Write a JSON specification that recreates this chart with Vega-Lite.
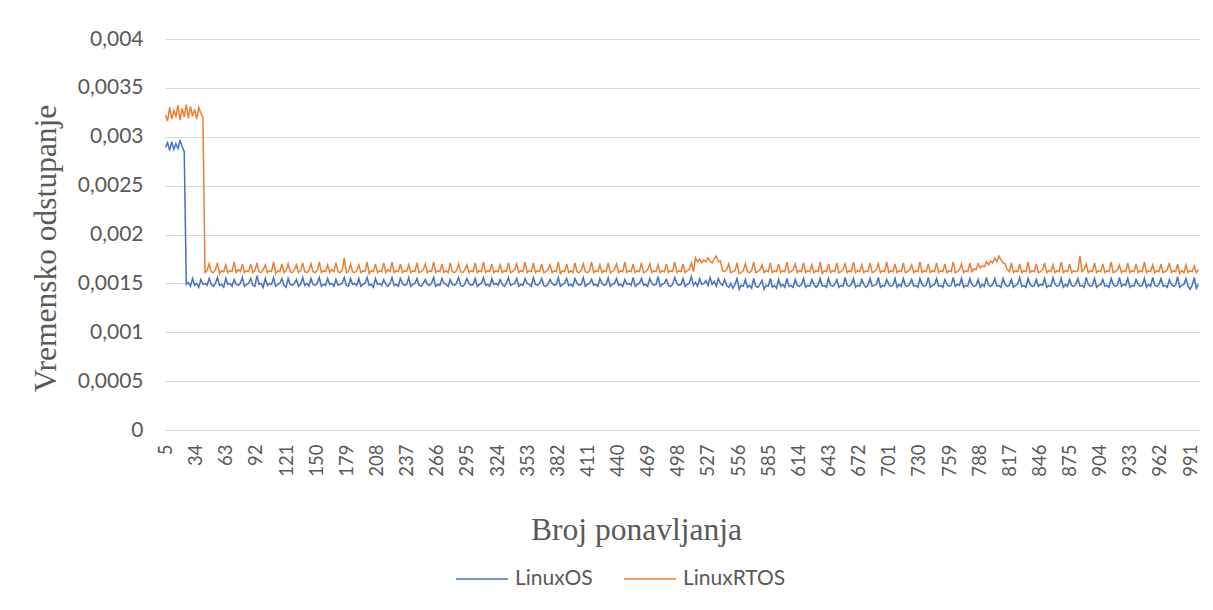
{
"$schema": "https://vega.github.io/schema/vega-lite/v6.json",
"width": 1035, "height": 391,
"autosize": {"type": "none"},
"padding": {"left": 165, "top": 39, "right": 13, "bottom": 180},
"background": "white",
"config": {"view": {"stroke": null}, "font": "Lato"},
"data": {"values": [
{"x":5,"LinuxOS":0.00289,"LinuxRTOS":0.00322},{"x":7,"LinuxOS":0.00294,"LinuxRTOS":0.00316},{"x":9,"LinuxOS":0.00286,"LinuxRTOS":0.00330},{"x":11,"LinuxOS":0.00295,"LinuxRTOS":0.00318},{"x":13,"LinuxOS":0.00287,"LinuxRTOS":0.00327},{"x":15,"LinuxOS":0.00293,"LinuxRTOS":0.00321},{"x":17,"LinuxOS":0.00288,"LinuxRTOS":0.00332},{"x":19,"LinuxOS":0.00296,"LinuxRTOS":0.00317},{"x":21,"LinuxOS":0.00290,"LinuxRTOS":0.00329},{"x":23,"LinuxOS":0.00285,"LinuxRTOS":0.00320},
{"x":25,"LinuxOS":0.00149,"LinuxRTOS":0.00333},{"x":27,"LinuxOS":0.00151,"LinuxRTOS":0.00319},{"x":29,"LinuxOS":0.00147,"LinuxRTOS":0.00331},{"x":31,"LinuxOS":0.00155,"LinuxRTOS":0.00321},{"x":33,"LinuxOS":0.00148,"LinuxRTOS":0.00328},{"x":35,"LinuxOS":0.00150,"LinuxRTOS":0.00318},{"x":37,"LinuxOS":0.00146,"LinuxRTOS":0.00330},{"x":39,"LinuxOS":0.00154,"LinuxRTOS":0.00324},{"x":41,"LinuxOS":0.00149,"LinuxRTOS":0.00320},
{"x":43,"LinuxOS":0.00150,"LinuxRTOS":0.00161},{"x":45,"LinuxOS":0.00148,"LinuxRTOS":0.00163},{"x":47,"LinuxOS":0.00155,"LinuxRTOS":0.00170},{"x":49,"LinuxOS":0.00149,"LinuxRTOS":0.00162},{"x":51,"LinuxOS":0.00147,"LinuxRTOS":0.00161},{"x":53,"LinuxOS":0.00150,"LinuxRTOS":0.00164},{"x":55,"LinuxOS":0.00156,"LinuxRTOS":0.00171},{"x":57,"LinuxOS":0.00148,"LinuxRTOS":0.00160},{"x":59,"LinuxOS":0.00149,"LinuxRTOS":0.00163},{"x":61,"LinuxOS":0.00146,"LinuxRTOS":0.00162},
{"x":63,"LinuxOS":0.00155,"LinuxRTOS":0.00169},{"x":65,"LinuxOS":0.00149,"LinuxRTOS":0.00161},{"x":67,"LinuxOS":0.00150,"LinuxRTOS":0.00163},{"x":69,"LinuxOS":0.00147,"LinuxRTOS":0.00162},{"x":71,"LinuxOS":0.00154,"LinuxRTOS":0.00172},{"x":73,"LinuxOS":0.00149,"LinuxRTOS":0.00161},{"x":75,"LinuxOS":0.00148,"LinuxRTOS":0.00164},{"x":77,"LinuxOS":0.00150,"LinuxRTOS":0.00162},{"x":79,"LinuxOS":0.00156,"LinuxRTOS":0.00170},{"x":81,"LinuxOS":0.00147,"LinuxRTOS":0.00161},
{"x":83,"LinuxOS":0.00149,"LinuxRTOS":0.00163},{"x":85,"LinuxOS":0.00150,"LinuxRTOS":0.00162},{"x":87,"LinuxOS":0.00155,"LinuxRTOS":0.00170},{"x":89,"LinuxOS":0.00148,"LinuxRTOS":0.00161},{"x":91,"LinuxOS":0.00147,"LinuxRTOS":0.00163},{"x":93,"LinuxOS":0.00158,"LinuxRTOS":0.00171},{"x":95,"LinuxOS":0.00149,"LinuxRTOS":0.00162},{"x":97,"LinuxOS":0.00150,"LinuxRTOS":0.00161},{"x":99,"LinuxOS":0.00146,"LinuxRTOS":0.00164},{"x":101,"LinuxOS":0.00155,"LinuxRTOS":0.00169},
{"x":103,"LinuxOS":0.00148,"LinuxRTOS":0.00161},{"x":105,"LinuxOS":0.00150,"LinuxRTOS":0.00163},{"x":107,"LinuxOS":0.00149,"LinuxRTOS":0.00162},{"x":109,"LinuxOS":0.00156,"LinuxRTOS":0.00172},{"x":111,"LinuxOS":0.00147,"LinuxRTOS":0.00160},{"x":113,"LinuxOS":0.00149,"LinuxRTOS":0.00163},{"x":115,"LinuxOS":0.00150,"LinuxRTOS":0.00162},{"x":117,"LinuxOS":0.00155,"LinuxRTOS":0.00170},{"x":119,"LinuxOS":0.00148,"LinuxRTOS":0.00161},{"x":121,"LinuxOS":0.00146,"LinuxRTOS":0.00163},
{"x":123,"LinuxOS":0.00155,"LinuxRTOS":0.00170},{"x":125,"LinuxOS":0.00149,"LinuxRTOS":0.00162},{"x":127,"LinuxOS":0.00148,"LinuxRTOS":0.00161},{"x":129,"LinuxOS":0.00150,"LinuxRTOS":0.00164},{"x":131,"LinuxOS":0.00154,"LinuxRTOS":0.00169},{"x":133,"LinuxOS":0.00147,"LinuxRTOS":0.00161},{"x":135,"LinuxOS":0.00149,"LinuxRTOS":0.00163},{"x":137,"LinuxOS":0.00156,"LinuxRTOS":0.00171},{"x":139,"LinuxOS":0.00148,"LinuxRTOS":0.00162},{"x":141,"LinuxOS":0.00150,"LinuxRTOS":0.00161},
{"x":143,"LinuxOS":0.00147,"LinuxRTOS":0.00163},{"x":145,"LinuxOS":0.00155,"LinuxRTOS":0.00170},{"x":147,"LinuxOS":0.00149,"LinuxRTOS":0.00162},{"x":149,"LinuxOS":0.00148,"LinuxRTOS":0.00161},{"x":151,"LinuxOS":0.00150,"LinuxRTOS":0.00163},{"x":153,"LinuxOS":0.00156,"LinuxRTOS":0.00172},{"x":155,"LinuxOS":0.00147,"LinuxRTOS":0.00161},{"x":157,"LinuxOS":0.00149,"LinuxRTOS":0.00163},{"x":159,"LinuxOS":0.00148,"LinuxRTOS":0.00162},{"x":161,"LinuxOS":0.00155,"LinuxRTOS":0.00169},
{"x":163,"LinuxOS":0.00149,"LinuxRTOS":0.00161},{"x":165,"LinuxOS":0.00150,"LinuxRTOS":0.00164},{"x":167,"LinuxOS":0.00147,"LinuxRTOS":0.00162},{"x":169,"LinuxOS":0.00154,"LinuxRTOS":0.00171},{"x":171,"LinuxOS":0.00148,"LinuxRTOS":0.00162},{"x":173,"LinuxOS":0.00149,"LinuxRTOS":0.00161},{"x":175,"LinuxOS":0.00150,"LinuxRTOS":0.00163},{"x":177,"LinuxOS":0.00156,"LinuxRTOS":0.00176},{"x":179,"LinuxOS":0.00148,"LinuxRTOS":0.00161},{"x":181,"LinuxOS":0.00147,"LinuxRTOS":0.00162},
{"x":183,"LinuxOS":0.00155,"LinuxRTOS":0.00170},{"x":185,"LinuxOS":0.00149,"LinuxRTOS":0.00162},{"x":187,"LinuxOS":0.00150,"LinuxRTOS":0.00161},{"x":189,"LinuxOS":0.00148,"LinuxRTOS":0.00163},{"x":191,"LinuxOS":0.00155,"LinuxRTOS":0.00169},{"x":193,"LinuxOS":0.00147,"LinuxRTOS":0.00161},{"x":195,"LinuxOS":0.00149,"LinuxRTOS":0.00163},{"x":197,"LinuxOS":0.00150,"LinuxRTOS":0.00162},{"x":199,"LinuxOS":0.00156,"LinuxRTOS":0.00172},{"x":201,"LinuxOS":0.00148,"LinuxRTOS":0.00160},
{"x":203,"LinuxOS":0.00149,"LinuxRTOS":0.00163},{"x":205,"LinuxOS":0.00146,"LinuxRTOS":0.00162},{"x":207,"LinuxOS":0.00155,"LinuxRTOS":0.00170},{"x":209,"LinuxOS":0.00149,"LinuxRTOS":0.00161},{"x":211,"LinuxOS":0.00150,"LinuxRTOS":0.00163},{"x":213,"LinuxOS":0.00148,"LinuxRTOS":0.00162},{"x":215,"LinuxOS":0.00154,"LinuxRTOS":0.00171},{"x":217,"LinuxOS":0.00149,"LinuxRTOS":0.00161},{"x":219,"LinuxOS":0.00147,"LinuxRTOS":0.00164},{"x":221,"LinuxOS":0.00150,"LinuxRTOS":0.00162},
{"x":223,"LinuxOS":0.00156,"LinuxRTOS":0.00172},{"x":225,"LinuxOS":0.00148,"LinuxRTOS":0.00161},{"x":227,"LinuxOS":0.00149,"LinuxRTOS":0.00163},{"x":229,"LinuxOS":0.00147,"LinuxRTOS":0.00162},{"x":231,"LinuxOS":0.00155,"LinuxRTOS":0.00170},{"x":233,"LinuxOS":0.00150,"LinuxRTOS":0.00161},{"x":235,"LinuxOS":0.00148,"LinuxRTOS":0.00163},{"x":237,"LinuxOS":0.00149,"LinuxRTOS":0.00162},{"x":239,"LinuxOS":0.00156,"LinuxRTOS":0.00169},{"x":241,"LinuxOS":0.00147,"LinuxRTOS":0.00161},
{"x":243,"LinuxOS":0.00149,"LinuxRTOS":0.00163},{"x":245,"LinuxOS":0.00150,"LinuxRTOS":0.00162},{"x":247,"LinuxOS":0.00155,"LinuxRTOS":0.00171},{"x":249,"LinuxOS":0.00148,"LinuxRTOS":0.00161},{"x":251,"LinuxOS":0.00147,"LinuxRTOS":0.00162},{"x":253,"LinuxOS":0.00150,"LinuxRTOS":0.00164},{"x":255,"LinuxOS":0.00154,"LinuxRTOS":0.00170},{"x":257,"LinuxOS":0.00149,"LinuxRTOS":0.00161},{"x":259,"LinuxOS":0.00148,"LinuxRTOS":0.00163},{"x":261,"LinuxOS":0.00150,"LinuxRTOS":0.00162},
{"x":263,"LinuxOS":0.00156,"LinuxRTOS":0.00172},{"x":265,"LinuxOS":0.00147,"LinuxRTOS":0.00161},{"x":267,"LinuxOS":0.00149,"LinuxRTOS":0.00163},{"x":269,"LinuxOS":0.00148,"LinuxRTOS":0.00162},{"x":271,"LinuxOS":0.00155,"LinuxRTOS":0.00170},{"x":273,"LinuxOS":0.00150,"LinuxRTOS":0.00161},{"x":275,"LinuxOS":0.00149,"LinuxRTOS":0.00163},{"x":277,"LinuxOS":0.00147,"LinuxRTOS":0.00161},{"x":279,"LinuxOS":0.00154,"LinuxRTOS":0.00171},{"x":281,"LinuxOS":0.00149,"LinuxRTOS":0.00162},
{"x":283,"LinuxOS":0.00148,"LinuxRTOS":0.00161},{"x":285,"LinuxOS":0.00150,"LinuxRTOS":0.00163},{"x":287,"LinuxOS":0.00156,"LinuxRTOS":0.00170},{"x":289,"LinuxOS":0.00148,"LinuxRTOS":0.00162},{"x":291,"LinuxOS":0.00147,"LinuxRTOS":0.00161},{"x":293,"LinuxOS":0.00149,"LinuxRTOS":0.00164},{"x":295,"LinuxOS":0.00155,"LinuxRTOS":0.00169},{"x":297,"LinuxOS":0.00150,"LinuxRTOS":0.00161},{"x":299,"LinuxOS":0.00148,"LinuxRTOS":0.00163},{"x":301,"LinuxOS":0.00149,"LinuxRTOS":0.00162},
{"x":303,"LinuxOS":0.00155,"LinuxRTOS":0.00171},{"x":305,"LinuxOS":0.00147,"LinuxRTOS":0.00161},{"x":307,"LinuxOS":0.00149,"LinuxRTOS":0.00163},{"x":309,"LinuxOS":0.00150,"LinuxRTOS":0.00162},{"x":311,"LinuxOS":0.00156,"LinuxRTOS":0.00172},{"x":313,"LinuxOS":0.00148,"LinuxRTOS":0.00161},{"x":315,"LinuxOS":0.00149,"LinuxRTOS":0.00163},{"x":317,"LinuxOS":0.00147,"LinuxRTOS":0.00162},{"x":319,"LinuxOS":0.00155,"LinuxRTOS":0.00170},{"x":321,"LinuxOS":0.00149,"LinuxRTOS":0.00161},
{"x":323,"LinuxOS":0.00150,"LinuxRTOS":0.00163},{"x":325,"LinuxOS":0.00148,"LinuxRTOS":0.00162},{"x":327,"LinuxOS":0.00154,"LinuxRTOS":0.00169},{"x":329,"LinuxOS":0.00149,"LinuxRTOS":0.00161},{"x":331,"LinuxOS":0.00147,"LinuxRTOS":0.00163},{"x":333,"LinuxOS":0.00150,"LinuxRTOS":0.00162},{"x":335,"LinuxOS":0.00156,"LinuxRTOS":0.00171},{"x":337,"LinuxOS":0.00148,"LinuxRTOS":0.00161},{"x":339,"LinuxOS":0.00149,"LinuxRTOS":0.00162},{"x":341,"LinuxOS":0.00150,"LinuxRTOS":0.00164},
{"x":343,"LinuxOS":0.00155,"LinuxRTOS":0.00170},{"x":345,"LinuxOS":0.00147,"LinuxRTOS":0.00161},{"x":347,"LinuxOS":0.00149,"LinuxRTOS":0.00163},{"x":349,"LinuxOS":0.00148,"LinuxRTOS":0.00162},{"x":351,"LinuxOS":0.00155,"LinuxRTOS":0.00172},{"x":353,"LinuxOS":0.00150,"LinuxRTOS":0.00161},{"x":355,"LinuxOS":0.00149,"LinuxRTOS":0.00163},{"x":357,"LinuxOS":0.00147,"LinuxRTOS":0.00162},{"x":359,"LinuxOS":0.00156,"LinuxRTOS":0.00171},{"x":361,"LinuxOS":0.00149,"LinuxRTOS":0.00161},
{"x":363,"LinuxOS":0.00148,"LinuxRTOS":0.00163},{"x":365,"LinuxOS":0.00150,"LinuxRTOS":0.00162},{"x":367,"LinuxOS":0.00155,"LinuxRTOS":0.00170},{"x":369,"LinuxOS":0.00148,"LinuxRTOS":0.00161},{"x":371,"LinuxOS":0.00147,"LinuxRTOS":0.00162},{"x":373,"LinuxOS":0.00149,"LinuxRTOS":0.00164},{"x":375,"LinuxOS":0.00154,"LinuxRTOS":0.00169},{"x":377,"LinuxOS":0.00150,"LinuxRTOS":0.00161},{"x":379,"LinuxOS":0.00148,"LinuxRTOS":0.00163},{"x":381,"LinuxOS":0.00149,"LinuxRTOS":0.00162},
{"x":383,"LinuxOS":0.00156,"LinuxRTOS":0.00172},{"x":385,"LinuxOS":0.00147,"LinuxRTOS":0.00160},{"x":387,"LinuxOS":0.00149,"LinuxRTOS":0.00163},{"x":389,"LinuxOS":0.00150,"LinuxRTOS":0.00162},{"x":391,"LinuxOS":0.00155,"LinuxRTOS":0.00170},{"x":393,"LinuxOS":0.00148,"LinuxRTOS":0.00161},{"x":395,"LinuxOS":0.00149,"LinuxRTOS":0.00163},{"x":397,"LinuxOS":0.00147,"LinuxRTOS":0.00161},{"x":399,"LinuxOS":0.00155,"LinuxRTOS":0.00171},{"x":401,"LinuxOS":0.00150,"LinuxRTOS":0.00162},
{"x":403,"LinuxOS":0.00148,"LinuxRTOS":0.00161},{"x":405,"LinuxOS":0.00149,"LinuxRTOS":0.00163},{"x":407,"LinuxOS":0.00156,"LinuxRTOS":0.00170},{"x":409,"LinuxOS":0.00147,"LinuxRTOS":0.00162},{"x":411,"LinuxOS":0.00149,"LinuxRTOS":0.00161},{"x":413,"LinuxOS":0.00150,"LinuxRTOS":0.00163},{"x":415,"LinuxOS":0.00154,"LinuxRTOS":0.00172},{"x":417,"LinuxOS":0.00148,"LinuxRTOS":0.00161},{"x":419,"LinuxOS":0.00149,"LinuxRTOS":0.00163},{"x":421,"LinuxOS":0.00147,"LinuxRTOS":0.00162},
{"x":423,"LinuxOS":0.00155,"LinuxRTOS":0.00169},{"x":425,"LinuxOS":0.00150,"LinuxRTOS":0.00161},{"x":427,"LinuxOS":0.00148,"LinuxRTOS":0.00163},{"x":429,"LinuxOS":0.00149,"LinuxRTOS":0.00162},{"x":431,"LinuxOS":0.00156,"LinuxRTOS":0.00171},{"x":433,"LinuxOS":0.00147,"LinuxRTOS":0.00161},{"x":435,"LinuxOS":0.00149,"LinuxRTOS":0.00162},{"x":437,"LinuxOS":0.00150,"LinuxRTOS":0.00164},{"x":439,"LinuxOS":0.00155,"LinuxRTOS":0.00170},{"x":441,"LinuxOS":0.00148,"LinuxRTOS":0.00161},
{"x":443,"LinuxOS":0.00149,"LinuxRTOS":0.00163},{"x":445,"LinuxOS":0.00147,"LinuxRTOS":0.00162},{"x":447,"LinuxOS":0.00154,"LinuxRTOS":0.00172},{"x":449,"LinuxOS":0.00149,"LinuxRTOS":0.00161},{"x":451,"LinuxOS":0.00150,"LinuxRTOS":0.00163},{"x":453,"LinuxOS":0.00148,"LinuxRTOS":0.00162},{"x":455,"LinuxOS":0.00156,"LinuxRTOS":0.00170},{"x":457,"LinuxOS":0.00147,"LinuxRTOS":0.00161},{"x":459,"LinuxOS":0.00149,"LinuxRTOS":0.00163},{"x":461,"LinuxOS":0.00150,"LinuxRTOS":0.00162},
{"x":463,"LinuxOS":0.00155,"LinuxRTOS":0.00171},{"x":465,"LinuxOS":0.00148,"LinuxRTOS":0.00161},{"x":467,"LinuxOS":0.00149,"LinuxRTOS":0.00162},{"x":469,"LinuxOS":0.00147,"LinuxRTOS":0.00164},{"x":471,"LinuxOS":0.00155,"LinuxRTOS":0.00170},{"x":473,"LinuxOS":0.00150,"LinuxRTOS":0.00161},{"x":475,"LinuxOS":0.00148,"LinuxRTOS":0.00163},{"x":477,"LinuxOS":0.00149,"LinuxRTOS":0.00162},{"x":479,"LinuxOS":0.00157,"LinuxRTOS":0.00169},{"x":481,"LinuxOS":0.00147,"LinuxRTOS":0.00161},
{"x":483,"LinuxOS":0.00149,"LinuxRTOS":0.00163},{"x":485,"LinuxOS":0.00150,"LinuxRTOS":0.00162},{"x":487,"LinuxOS":0.00154,"LinuxRTOS":0.00170},{"x":489,"LinuxOS":0.00148,"LinuxRTOS":0.00161},{"x":491,"LinuxOS":0.00147,"LinuxRTOS":0.00163},{"x":493,"LinuxOS":0.00149,"LinuxRTOS":0.00162},{"x":495,"LinuxOS":0.00156,"LinuxRTOS":0.00172},{"x":497,"LinuxOS":0.00150,"LinuxRTOS":0.00161},{"x":499,"LinuxOS":0.00148,"LinuxRTOS":0.00163},{"x":501,"LinuxOS":0.00149,"LinuxRTOS":0.00162},
{"x":503,"LinuxOS":0.00155,"LinuxRTOS":0.00170},{"x":505,"LinuxOS":0.00147,"LinuxRTOS":0.00161},{"x":507,"LinuxOS":0.00149,"LinuxRTOS":0.00163},{"x":509,"LinuxOS":0.00150,"LinuxRTOS":0.00164},{"x":511,"LinuxOS":0.00157,"LinuxRTOS":0.00171},{"x":513,"LinuxOS":0.00148,"LinuxRTOS":0.00162},{"x":515,"LinuxOS":0.00151,"LinuxRTOS":0.00176},{"x":517,"LinuxOS":0.00147,"LinuxRTOS":0.00172},{"x":519,"LinuxOS":0.00155,"LinuxRTOS":0.00175},{"x":521,"LinuxOS":0.00149,"LinuxRTOS":0.00171},
{"x":523,"LinuxOS":0.00150,"LinuxRTOS":0.00174},{"x":525,"LinuxOS":0.00153,"LinuxRTOS":0.00172},{"x":527,"LinuxOS":0.00148,"LinuxRTOS":0.00176},{"x":529,"LinuxOS":0.00156,"LinuxRTOS":0.00173},{"x":531,"LinuxOS":0.00149,"LinuxRTOS":0.00171},{"x":533,"LinuxOS":0.00152,"LinuxRTOS":0.00175},{"x":535,"LinuxOS":0.00147,"LinuxRTOS":0.00178},{"x":537,"LinuxOS":0.00155,"LinuxRTOS":0.00172},{"x":539,"LinuxOS":0.00150,"LinuxRTOS":0.00173},{"x":541,"LinuxOS":0.00148,"LinuxRTOS":0.00163},
{"x":543,"LinuxOS":0.00154,"LinuxRTOS":0.00162},{"x":545,"LinuxOS":0.00148,"LinuxRTOS":0.00164},{"x":547,"LinuxOS":0.00146,"LinuxRTOS":0.00170},{"x":549,"LinuxOS":0.00150,"LinuxRTOS":0.00161},{"x":551,"LinuxOS":0.00145,"LinuxRTOS":0.00162},{"x":553,"LinuxOS":0.00149,"LinuxRTOS":0.00163},{"x":555,"LinuxOS":0.00155,"LinuxRTOS":0.00171},{"x":557,"LinuxOS":0.00144,"LinuxRTOS":0.00160},{"x":559,"LinuxOS":0.00148,"LinuxRTOS":0.00161},{"x":561,"LinuxOS":0.00147,"LinuxRTOS":0.00163},
{"x":563,"LinuxOS":0.00154,"LinuxRTOS":0.00170},{"x":565,"LinuxOS":0.00146,"LinuxRTOS":0.00162},{"x":567,"LinuxOS":0.00148,"LinuxRTOS":0.00161},{"x":569,"LinuxOS":0.00145,"LinuxRTOS":0.00163},{"x":571,"LinuxOS":0.00155,"LinuxRTOS":0.00172},{"x":573,"LinuxOS":0.00147,"LinuxRTOS":0.00161},{"x":575,"LinuxOS":0.00146,"LinuxRTOS":0.00162},{"x":577,"LinuxOS":0.00149,"LinuxRTOS":0.00164},{"x":579,"LinuxOS":0.00153,"LinuxRTOS":0.00169},{"x":581,"LinuxOS":0.00144,"LinuxRTOS":0.00161},
{"x":583,"LinuxOS":0.00148,"LinuxRTOS":0.00163},{"x":585,"LinuxOS":0.00147,"LinuxRTOS":0.00162},{"x":587,"LinuxOS":0.00155,"LinuxRTOS":0.00171},{"x":589,"LinuxOS":0.00146,"LinuxRTOS":0.00161},{"x":591,"LinuxOS":0.00148,"LinuxRTOS":0.00163},{"x":593,"LinuxOS":0.00145,"LinuxRTOS":0.00162},{"x":595,"LinuxOS":0.00154,"LinuxRTOS":0.00170},{"x":597,"LinuxOS":0.00147,"LinuxRTOS":0.00161},{"x":599,"LinuxOS":0.00149,"LinuxRTOS":0.00163},{"x":601,"LinuxOS":0.00146,"LinuxRTOS":0.00162},
{"x":603,"LinuxOS":0.00155,"LinuxRTOS":0.00172},{"x":605,"LinuxOS":0.00147,"LinuxRTOS":0.00161},{"x":607,"LinuxOS":0.00148,"LinuxRTOS":0.00162},{"x":609,"LinuxOS":0.00146,"LinuxRTOS":0.00164},{"x":611,"LinuxOS":0.00154,"LinuxRTOS":0.00170},{"x":613,"LinuxOS":0.00148,"LinuxRTOS":0.00161},{"x":615,"LinuxOS":0.00147,"LinuxRTOS":0.00163},{"x":617,"LinuxOS":0.00149,"LinuxRTOS":0.00162},{"x":619,"LinuxOS":0.00155,"LinuxRTOS":0.00171},{"x":621,"LinuxOS":0.00146,"LinuxRTOS":0.00161},
{"x":623,"LinuxOS":0.00148,"LinuxRTOS":0.00163},{"x":625,"LinuxOS":0.00147,"LinuxRTOS":0.00162},{"x":627,"LinuxOS":0.00154,"LinuxRTOS":0.00169},{"x":629,"LinuxOS":0.00149,"LinuxRTOS":0.00161},{"x":631,"LinuxOS":0.00146,"LinuxRTOS":0.00163},{"x":633,"LinuxOS":0.00148,"LinuxRTOS":0.00162},{"x":635,"LinuxOS":0.00155,"LinuxRTOS":0.00172},{"x":637,"LinuxOS":0.00147,"LinuxRTOS":0.00160},{"x":639,"LinuxOS":0.00148,"LinuxRTOS":0.00163},{"x":641,"LinuxOS":0.00146,"LinuxRTOS":0.00162},
{"x":643,"LinuxOS":0.00155,"LinuxRTOS":0.00170},{"x":645,"LinuxOS":0.00148,"LinuxRTOS":0.00161},{"x":647,"LinuxOS":0.00147,"LinuxRTOS":0.00163},{"x":649,"LinuxOS":0.00149,"LinuxRTOS":0.00162},{"x":651,"LinuxOS":0.00154,"LinuxRTOS":0.00171},{"x":653,"LinuxOS":0.00146,"LinuxRTOS":0.00161},{"x":655,"LinuxOS":0.00148,"LinuxRTOS":0.00162},{"x":657,"LinuxOS":0.00147,"LinuxRTOS":0.00164},{"x":659,"LinuxOS":0.00156,"LinuxRTOS":0.00170},{"x":661,"LinuxOS":0.00148,"LinuxRTOS":0.00161},
{"x":663,"LinuxOS":0.00147,"LinuxRTOS":0.00163},{"x":665,"LinuxOS":0.00149,"LinuxRTOS":0.00162},{"x":667,"LinuxOS":0.00155,"LinuxRTOS":0.00172},{"x":669,"LinuxOS":0.00146,"LinuxRTOS":0.00161},{"x":671,"LinuxOS":0.00148,"LinuxRTOS":0.00163},{"x":673,"LinuxOS":0.00147,"LinuxRTOS":0.00162},{"x":675,"LinuxOS":0.00154,"LinuxRTOS":0.00169},{"x":677,"LinuxOS":0.00149,"LinuxRTOS":0.00161},{"x":679,"LinuxOS":0.00146,"LinuxRTOS":0.00163},{"x":681,"LinuxOS":0.00148,"LinuxRTOS":0.00162},
{"x":683,"LinuxOS":0.00155,"LinuxRTOS":0.00171},{"x":685,"LinuxOS":0.00147,"LinuxRTOS":0.00161},{"x":687,"LinuxOS":0.00148,"LinuxRTOS":0.00162},{"x":689,"LinuxOS":0.00149,"LinuxRTOS":0.00164},{"x":691,"LinuxOS":0.00156,"LinuxRTOS":0.00170},{"x":693,"LinuxOS":0.00146,"LinuxRTOS":0.00161},{"x":695,"LinuxOS":0.00148,"LinuxRTOS":0.00163},{"x":697,"LinuxOS":0.00147,"LinuxRTOS":0.00162},{"x":699,"LinuxOS":0.00154,"LinuxRTOS":0.00172},{"x":701,"LinuxOS":0.00149,"LinuxRTOS":0.00161},
{"x":703,"LinuxOS":0.00147,"LinuxRTOS":0.00163},{"x":705,"LinuxOS":0.00148,"LinuxRTOS":0.00162},{"x":707,"LinuxOS":0.00155,"LinuxRTOS":0.00170},{"x":709,"LinuxOS":0.00146,"LinuxRTOS":0.00161},{"x":711,"LinuxOS":0.00149,"LinuxRTOS":0.00163},{"x":713,"LinuxOS":0.00147,"LinuxRTOS":0.00162},{"x":715,"LinuxOS":0.00155,"LinuxRTOS":0.00171},{"x":717,"LinuxOS":0.00148,"LinuxRTOS":0.00161},{"x":719,"LinuxOS":0.00147,"LinuxRTOS":0.00162},{"x":721,"LinuxOS":0.00149,"LinuxRTOS":0.00164},
{"x":723,"LinuxOS":0.00154,"LinuxRTOS":0.00169},{"x":725,"LinuxOS":0.00147,"LinuxRTOS":0.00161},{"x":727,"LinuxOS":0.00148,"LinuxRTOS":0.00163},{"x":729,"LinuxOS":0.00146,"LinuxRTOS":0.00162},{"x":731,"LinuxOS":0.00155,"LinuxRTOS":0.00172},{"x":733,"LinuxOS":0.00149,"LinuxRTOS":0.00161},{"x":735,"LinuxOS":0.00147,"LinuxRTOS":0.00163},{"x":737,"LinuxOS":0.00148,"LinuxRTOS":0.00162},{"x":739,"LinuxOS":0.00156,"LinuxRTOS":0.00170},{"x":741,"LinuxOS":0.00146,"LinuxRTOS":0.00161},
{"x":743,"LinuxOS":0.00148,"LinuxRTOS":0.00163},{"x":745,"LinuxOS":0.00149,"LinuxRTOS":0.00162},{"x":747,"LinuxOS":0.00155,"LinuxRTOS":0.00171},{"x":749,"LinuxOS":0.00147,"LinuxRTOS":0.00161},{"x":751,"LinuxOS":0.00148,"LinuxRTOS":0.00163},{"x":753,"LinuxOS":0.00146,"LinuxRTOS":0.00162},{"x":755,"LinuxOS":0.00154,"LinuxRTOS":0.00170},{"x":757,"LinuxOS":0.00149,"LinuxRTOS":0.00161},{"x":759,"LinuxOS":0.00147,"LinuxRTOS":0.00163},{"x":761,"LinuxOS":0.00148,"LinuxRTOS":0.00162},
{"x":763,"LinuxOS":0.00156,"LinuxRTOS":0.00172},{"x":765,"LinuxOS":0.00147,"LinuxRTOS":0.00161},{"x":767,"LinuxOS":0.00149,"LinuxRTOS":0.00162},{"x":769,"LinuxOS":0.00148,"LinuxRTOS":0.00164},{"x":771,"LinuxOS":0.00155,"LinuxRTOS":0.00170},{"x":773,"LinuxOS":0.00146,"LinuxRTOS":0.00161},{"x":775,"LinuxOS":0.00148,"LinuxRTOS":0.00163},{"x":777,"LinuxOS":0.00147,"LinuxRTOS":0.00162},{"x":779,"LinuxOS":0.00155,"LinuxRTOS":0.00171},{"x":781,"LinuxOS":0.00149,"LinuxRTOS":0.00162},
{"x":783,"LinuxOS":0.00147,"LinuxRTOS":0.00165},{"x":785,"LinuxOS":0.00148,"LinuxRTOS":0.00164},{"x":787,"LinuxOS":0.00154,"LinuxRTOS":0.00170},{"x":789,"LinuxOS":0.00146,"LinuxRTOS":0.00166},{"x":791,"LinuxOS":0.00149,"LinuxRTOS":0.00168},{"x":793,"LinuxOS":0.00147,"LinuxRTOS":0.00167},{"x":795,"LinuxOS":0.00156,"LinuxRTOS":0.00172},{"x":797,"LinuxOS":0.00148,"LinuxRTOS":0.00169},{"x":799,"LinuxOS":0.00147,"LinuxRTOS":0.00173},{"x":801,"LinuxOS":0.00149,"LinuxRTOS":0.00171},
{"x":803,"LinuxOS":0.00155,"LinuxRTOS":0.00176},{"x":805,"LinuxOS":0.00147,"LinuxRTOS":0.00172},{"x":807,"LinuxOS":0.00148,"LinuxRTOS":0.00178},{"x":809,"LinuxOS":0.00146,"LinuxRTOS":0.00174},{"x":811,"LinuxOS":0.00155,"LinuxRTOS":0.00171},{"x":813,"LinuxOS":0.00149,"LinuxRTOS":0.00170},{"x":815,"LinuxOS":0.00147,"LinuxRTOS":0.00164},{"x":817,"LinuxOS":0.00148,"LinuxRTOS":0.00162},{"x":819,"LinuxOS":0.00154,"LinuxRTOS":0.00171},{"x":821,"LinuxOS":0.00146,"LinuxRTOS":0.00161},
{"x":823,"LinuxOS":0.00148,"LinuxRTOS":0.00163},{"x":825,"LinuxOS":0.00149,"LinuxRTOS":0.00162},{"x":827,"LinuxOS":0.00156,"LinuxRTOS":0.00170},{"x":829,"LinuxOS":0.00147,"LinuxRTOS":0.00161},{"x":831,"LinuxOS":0.00148,"LinuxRTOS":0.00163},{"x":833,"LinuxOS":0.00146,"LinuxRTOS":0.00162},{"x":835,"LinuxOS":0.00155,"LinuxRTOS":0.00172},{"x":837,"LinuxOS":0.00149,"LinuxRTOS":0.00161},{"x":839,"LinuxOS":0.00147,"LinuxRTOS":0.00163},{"x":841,"LinuxOS":0.00148,"LinuxRTOS":0.00162},
{"x":843,"LinuxOS":0.00154,"LinuxRTOS":0.00170},{"x":845,"LinuxOS":0.00147,"LinuxRTOS":0.00161},{"x":847,"LinuxOS":0.00149,"LinuxRTOS":0.00162},{"x":849,"LinuxOS":0.00148,"LinuxRTOS":0.00164},{"x":851,"LinuxOS":0.00155,"LinuxRTOS":0.00171},{"x":853,"LinuxOS":0.00146,"LinuxRTOS":0.00161},{"x":855,"LinuxOS":0.00148,"LinuxRTOS":0.00163},{"x":857,"LinuxOS":0.00147,"LinuxRTOS":0.00162},{"x":859,"LinuxOS":0.00156,"LinuxRTOS":0.00169},{"x":861,"LinuxOS":0.00149,"LinuxRTOS":0.00161},
{"x":863,"LinuxOS":0.00147,"LinuxRTOS":0.00163},{"x":865,"LinuxOS":0.00148,"LinuxRTOS":0.00162},{"x":867,"LinuxOS":0.00155,"LinuxRTOS":0.00172},{"x":869,"LinuxOS":0.00146,"LinuxRTOS":0.00161},{"x":871,"LinuxOS":0.00149,"LinuxRTOS":0.00163},{"x":873,"LinuxOS":0.00147,"LinuxRTOS":0.00162},{"x":875,"LinuxOS":0.00154,"LinuxRTOS":0.00170},{"x":877,"LinuxOS":0.00148,"LinuxRTOS":0.00161},{"x":879,"LinuxOS":0.00147,"LinuxRTOS":0.00163},{"x":881,"LinuxOS":0.00149,"LinuxRTOS":0.00162},
{"x":883,"LinuxOS":0.00155,"LinuxRTOS":0.00163},{"x":885,"LinuxOS":0.00147,"LinuxRTOS":0.00178},{"x":887,"LinuxOS":0.00148,"LinuxRTOS":0.00162},{"x":889,"LinuxOS":0.00146,"LinuxRTOS":0.00164},{"x":891,"LinuxOS":0.00156,"LinuxRTOS":0.00170},{"x":893,"LinuxOS":0.00149,"LinuxRTOS":0.00161},{"x":895,"LinuxOS":0.00147,"LinuxRTOS":0.00163},{"x":897,"LinuxOS":0.00148,"LinuxRTOS":0.00162},{"x":899,"LinuxOS":0.00155,"LinuxRTOS":0.00171},{"x":901,"LinuxOS":0.00146,"LinuxRTOS":0.00161},
{"x":903,"LinuxOS":0.00148,"LinuxRTOS":0.00163},{"x":905,"LinuxOS":0.00149,"LinuxRTOS":0.00162},{"x":907,"LinuxOS":0.00154,"LinuxRTOS":0.00170},{"x":909,"LinuxOS":0.00147,"LinuxRTOS":0.00161},{"x":911,"LinuxOS":0.00148,"LinuxRTOS":0.00163},{"x":913,"LinuxOS":0.00146,"LinuxRTOS":0.00162},{"x":915,"LinuxOS":0.00155,"LinuxRTOS":0.00172},{"x":917,"LinuxOS":0.00149,"LinuxRTOS":0.00161},{"x":919,"LinuxOS":0.00147,"LinuxRTOS":0.00162},{"x":921,"LinuxOS":0.00148,"LinuxRTOS":0.00164},
{"x":923,"LinuxOS":0.00156,"LinuxRTOS":0.00169},{"x":925,"LinuxOS":0.00147,"LinuxRTOS":0.00161},{"x":927,"LinuxOS":0.00149,"LinuxRTOS":0.00163},{"x":929,"LinuxOS":0.00148,"LinuxRTOS":0.00162},{"x":931,"LinuxOS":0.00155,"LinuxRTOS":0.00171},{"x":933,"LinuxOS":0.00146,"LinuxRTOS":0.00161},{"x":935,"LinuxOS":0.00148,"LinuxRTOS":0.00163},{"x":937,"LinuxOS":0.00147,"LinuxRTOS":0.00162},{"x":939,"LinuxOS":0.00154,"LinuxRTOS":0.00170},{"x":941,"LinuxOS":0.00149,"LinuxRTOS":0.00161},
{"x":943,"LinuxOS":0.00147,"LinuxRTOS":0.00163},{"x":945,"LinuxOS":0.00148,"LinuxRTOS":0.00162},{"x":947,"LinuxOS":0.00155,"LinuxRTOS":0.00172},{"x":949,"LinuxOS":0.00146,"LinuxRTOS":0.00161},{"x":951,"LinuxOS":0.00149,"LinuxRTOS":0.00163},{"x":953,"LinuxOS":0.00147,"LinuxRTOS":0.00162},{"x":955,"LinuxOS":0.00156,"LinuxRTOS":0.00169},{"x":957,"LinuxOS":0.00148,"LinuxRTOS":0.00161},{"x":959,"LinuxOS":0.00147,"LinuxRTOS":0.00163},{"x":961,"LinuxOS":0.00149,"LinuxRTOS":0.00162},
{"x":963,"LinuxOS":0.00155,"LinuxRTOS":0.00170},{"x":965,"LinuxOS":0.00147,"LinuxRTOS":0.00161},{"x":967,"LinuxOS":0.00148,"LinuxRTOS":0.00162},{"x":969,"LinuxOS":0.00146,"LinuxRTOS":0.00164},{"x":971,"LinuxOS":0.00154,"LinuxRTOS":0.00171},{"x":973,"LinuxOS":0.00149,"LinuxRTOS":0.00161},{"x":975,"LinuxOS":0.00147,"LinuxRTOS":0.00163},{"x":977,"LinuxOS":0.00148,"LinuxRTOS":0.00162},{"x":979,"LinuxOS":0.00157,"LinuxRTOS":0.00170},{"x":981,"LinuxOS":0.00146,"LinuxRTOS":0.00160},
{"x":983,"LinuxOS":0.00148,"LinuxRTOS":0.00163},{"x":985,"LinuxOS":0.00149,"LinuxRTOS":0.00161},{"x":987,"LinuxOS":0.00155,"LinuxRTOS":0.00169},{"x":989,"LinuxOS":0.00147,"LinuxRTOS":0.00161},{"x":991,"LinuxOS":0.00144,"LinuxRTOS":0.00163},{"x":993,"LinuxOS":0.00148,"LinuxRTOS":0.00162},{"x":995,"LinuxOS":0.00156,"LinuxRTOS":0.00168},{"x":997,"LinuxOS":0.00145,"LinuxRTOS":0.00161},{"x":999,"LinuxOS":0.00149,"LinuxRTOS":0.00164}
]},
"transform": [{"fold": ["LinuxOS", "LinuxRTOS"], "as": ["series", "value"]}],
"mark": {"type": "line", "strokeWidth": 1.5, "interpolate": "linear"},
"encoding": {
  "x": {"field": "x", "type": "quantitative",
    "scale": {"domain": [4.5, 1000.5], "nice": false, "zero": false},
    "axis": {"values": [5,34,63,92,121,150,179,208,237,266,295,324,353,382,411,440,469,498,527,556,585,614,643,672,701,730,759,788,817,846,875,904,933,962,991],
      "labelAngle": 270, "labelAlign": "right", "labelBaseline": "middle", "labelFontSize": 18.5, "labelFont": "Lato", "labelColor": "#595959",
      "labelPadding": 14, "labelOverlap": false, "labelFlush": false, "ticks": false, "grid": false,
      "domainColor": "#d9d9d9", "domainWidth": 1,
      "title": "Broj ponavljanja", "titleFont": "Liberation Serif", "titleFontSize": 31.5, "titleFontWeight": "normal", "titleColor": "#595959",
      "titleX": 471, "titleY": 100, "titleAlign": "center", "titleBaseline": "middle"}},
  "y": {"field": "value", "type": "quantitative",
    "scale": {"domain": [0, 0.004], "nice": false},
    "axis": {"values": [0,0.0005,0.001,0.0015,0.002,0.0025,0.003,0.0035,0.004],
      "labelExpr": "replace(format(datum.value, '.4~f'), '.', ',')",
      "labelFontSize": 21, "labelFont": "Lato", "labelColor": "#595959", "labelPadding": 22,
      "domain": false, "ticks": false, "grid": true, "gridColor": "#d9d9d9", "gridWidth": 1,
      "title": "Vremensko odstupanje", "titleFont": "Liberation Serif", "titleFontSize": 31.5, "titleFontWeight": "normal", "titleColor": "#595959",
      "titleAngle": 270, "titleX": -119, "titleY": 209, "titleAlign": "center", "titleBaseline": "middle"}},
  "color": {"field": "series", "type": "nominal",
    "scale": {"domain": ["LinuxOS", "LinuxRTOS"], "range": ["#4472C4", "#ED7D31"]},
    "legend": {"title": null, "orient": "none", "direction": "horizontal", "legendX": 290, "legendY": 513,
      "symbolType": "stroke", "symbolSize": 2704, "symbolStrokeWidth": 1.5,
      "labelFontSize": 21, "labelFont": "Lato", "labelColor": "#595959", "labelOffset": 6, "columnPadding": 28}}
}
}
